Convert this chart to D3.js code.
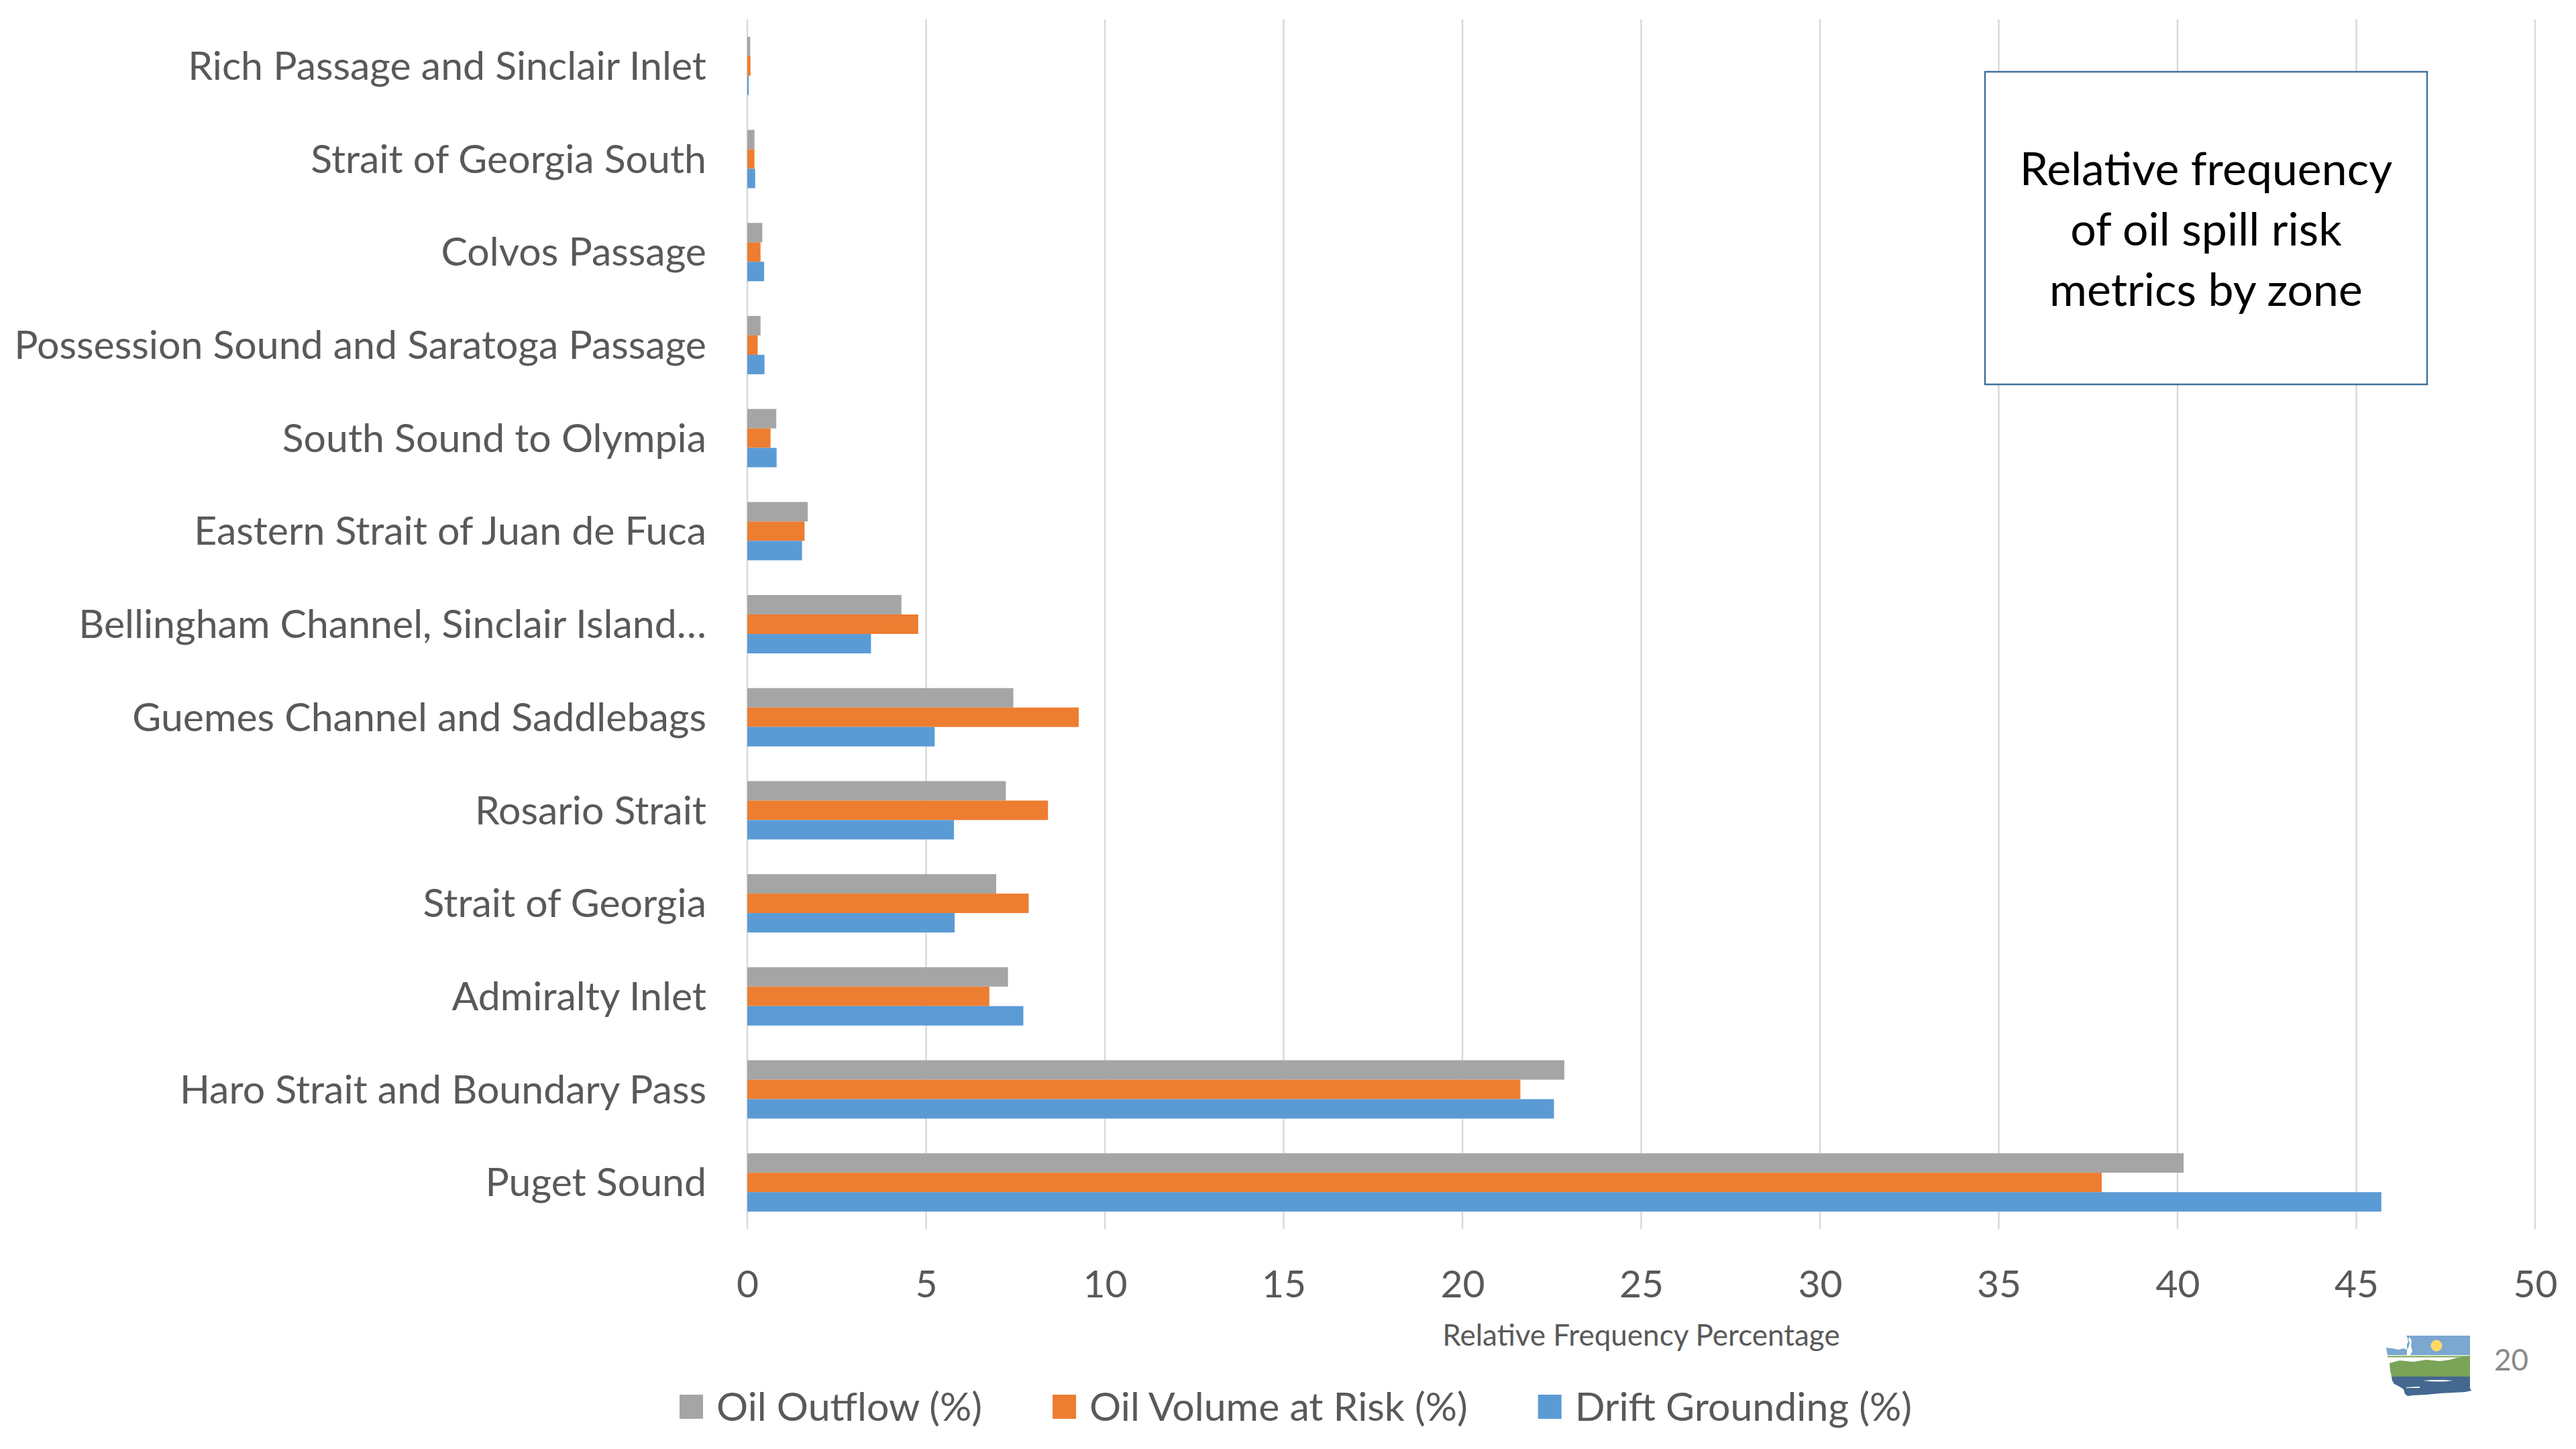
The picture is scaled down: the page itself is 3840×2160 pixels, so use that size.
<!DOCTYPE html>
<html>
<head>
<meta charset="utf-8">
<script src="https://cdn.jsdelivr.net/npm/d3@7"></script>
<style>
  html, body { margin: 0; padding: 0; background: #ffffff; }
  svg { display: block; }
  text { font-family: Lato, "Open Sans", "Noto Sans", sans-serif; }
</style>
</head>
<body>
<svg id="chart" width="3840" height="2160"></svg>
<script>
// Zones, top to bottom
const categories = [
  "Rich Passage and Sinclair Inlet",
  "Strait of Georgia South",
  "Colvos Passage",
  "Possession Sound and Saratoga Passage",
  "South Sound to Olympia",
  "Eastern Strait of Juan de Fuca",
  "Bellingham Channel, Sinclair Island…",
  "Guemes Channel and Saddlebags",
  "Rosario Strait",
  "Strait of Georgia",
  "Admiralty Inlet",
  "Haro Strait and Boundary Pass",
  "Puget Sound"
];

// Relative frequency (%) per metric, in zone order
const oilOutflow      = [0.08, 0.20, 0.42, 0.37, 0.81, 1.69, 4.31, 7.44, 7.23, 6.96, 7.29, 22.85, 40.17];
const oilVolumeAtRisk = [0.09, 0.20, 0.37, 0.29, 0.65, 1.60, 4.78, 9.27, 8.41, 7.87, 6.77, 21.62, 37.88];
const driftGrounding  = [0.04, 0.22, 0.47, 0.48, 0.82, 1.53, 3.46, 5.24, 5.78, 5.80, 7.72, 22.56, 45.70];

const seriesNames = ["Oil Outflow (%)", "Oil Volume at Risk (%)", "Drift Grounding (%)"];
const seriesColors = ["#a5a5a5", "#ed7d31", "#5b9bd5"];
const xTicks = [0, 5, 10, 15, 20, 25, 30, 35, 40, 45, 50];

const titleLines = ["Relative frequency", "of oil spill risk", "metrics by zone"];
const axisTitle = "Relative Frequency Percentage";
const pageNumber = "20";

const series = [oilOutflow, oilVolumeAtRisk, driftGrounding];

const svg = d3.select("#chart");

const plot = { left: 1114, right: 3779, top: 29, bottom: 1832 };

const x = d3.scaleLinear().domain([0, 50]).range([plot.left, plot.right]);
const y = d3.scaleBand().domain(categories).range([plot.top, plot.bottom])
  .paddingInner(0.373).paddingOuter(0.1865);
const ySub = d3.scaleBand().domain(d3.range(series.length)).range([0, y.bandwidth()]);

// Vertical gridlines
svg.append("g").selectAll("line").data(xTicks).join("line")
  .attr("x1", d => x(d)).attr("x2", d => x(d))
  .attr("y1", plot.top).attr("y2", plot.bottom)
  .attr("stroke", "#d9d9d9").attr("stroke-width", 2.5);

// Bars
const groups = svg.append("g").selectAll("g").data(categories).join("g")
  .attr("transform", d => `translate(0,${y(d)})`);
groups.selectAll("rect")
  .data((d, i) => series.map((s, k) => ({ k, v: s[i] })))
  .join("rect")
  .attr("x", x(0))
  .attr("y", d => ySub(d.k))
  .attr("width", d => x(d.v) - x(0))
  .attr("height", ySub.bandwidth())
  .attr("fill", d => seriesColors[d.k]);

// Category axis labels
const yAxis = d3.axisLeft(y).tickSize(0).tickPadding(61);
const gy = svg.append("g").attr("transform", `translate(${plot.left},0)`).call(yAxis);
gy.select(".domain").remove();
gy.selectAll("text")
  .attr("fill", "#595959").style("font-size", "59px").attr("dy", "0.35em");

// Value axis labels
const xAxis = d3.axisBottom(x).tickValues(xTicks).tickSize(0).tickPadding(0).tickFormat(d3.format("d"));
const gx = svg.append("g").attr("transform", `translate(0,1913)`).call(xAxis);
gx.select(".domain").remove();
gx.selectAll("text")
  .attr("fill", "#595959").style("font-size", "57px").attr("y", 0).attr("dy", "0.36em");

// Axis title
svg.append("text")
  .attr("x", (plot.left + plot.right) / 2).attr("y", 2006)
  .attr("text-anchor", "middle").attr("fill", "#595959")
  .style("font-size", "44px").text(axisTitle);

// Legend
const legend = svg.append("g").attr("transform", "translate(1013,2097)");
let lx = 0;
seriesNames.forEach((name, k) => {
  const item = legend.append("g").attr("transform", `translate(${lx},0)`);
  item.append("rect").attr("x", 0).attr("y", -18).attr("width", 35).attr("height", 36)
    .attr("fill", seriesColors[k]);
  const t = item.append("text").attr("x", 55).attr("y", 0).attr("dy", "0.36em")
    .attr("fill", "#595959").style("font-size", "59px").text(name);
  lx += 55 + t.node().getComputedTextLength() + 105;
});

// Title box
const box = { x: 2959, y: 107, w: 659, h: 466 };
svg.append("rect")
  .attr("x", box.x).attr("y", box.y).attr("width", box.w).attr("height", box.h)
  .attr("fill", "#ffffff").attr("stroke", "#41719c").attr("stroke-width", 2.5);
svg.append("g").selectAll("text").data(titleLines).join("text")
  .attr("x", box.x + box.w / 2)
  .attr("y", (d, i) => 276 + i * 90)
  .attr("text-anchor", "middle").attr("fill", "#000000")
  .style("font-size", "68px").text(d => d);

// Washington state emblem
const logo = svg.append("g").attr("transform", "translate(3557,1991)");
logo.append("path")
  .attr("d", "M0,18 L10,19 L18,21 L26,19 L31,21 L31,12 L33,10 L32,4 L30,0 L125,0 L125,29 L2,29 Z")
  .attr("fill", "#7ba7d0");
logo.append("path")
  .attr("d", "M31,21 L34,16 L35,10 L33,5 L35,2 L38,8 L37,15 L39,23 L36,29 L31,29 Z")
  .attr("fill", "#ffffff");
logo.append("circle").attr("cx", 75).attr("cy", 15).attr("r", 8.5).attr("fill", "#ffd966");
logo.append("rect").attr("x", 2).attr("y", 30).attr("width", 123).attr("height", 2.5).attr("fill", "#93b66d");
logo.append("path")
  .attr("d", "M5,41 L20,37 L40,39 L60,36 L80,38 L95,36 L105,33 L125,30 L125,61 L8,61 L6,52 Z")
  .attr("fill", "#7aa457");
logo.append("path")
  .attr("d", "M8,61 L125,61 L125,78 L127,82 L118,84 L100,85 L80,86 L60,88 L40,89 L32,90 L28,87 L26,80 L20,76 L12,72 L9,67 Z")
  .attr("fill", "#44688f");
logo.append("path").attr("d", "M55,67 Q75,65 100,67 Q80,70 55,67 Z").attr("fill", "#ffffff");
logo.append("path").attr("d", "M30,77 L50,76 L50,78 L30,78 Z").attr("fill", "#ffffff");

// Slide number
svg.append("text")
  .attr("x", 3718).attr("y", 2043)
  .attr("fill", "#898989").style("font-size", "44px").text(pageNumber);
</script>
</body>
</html>
